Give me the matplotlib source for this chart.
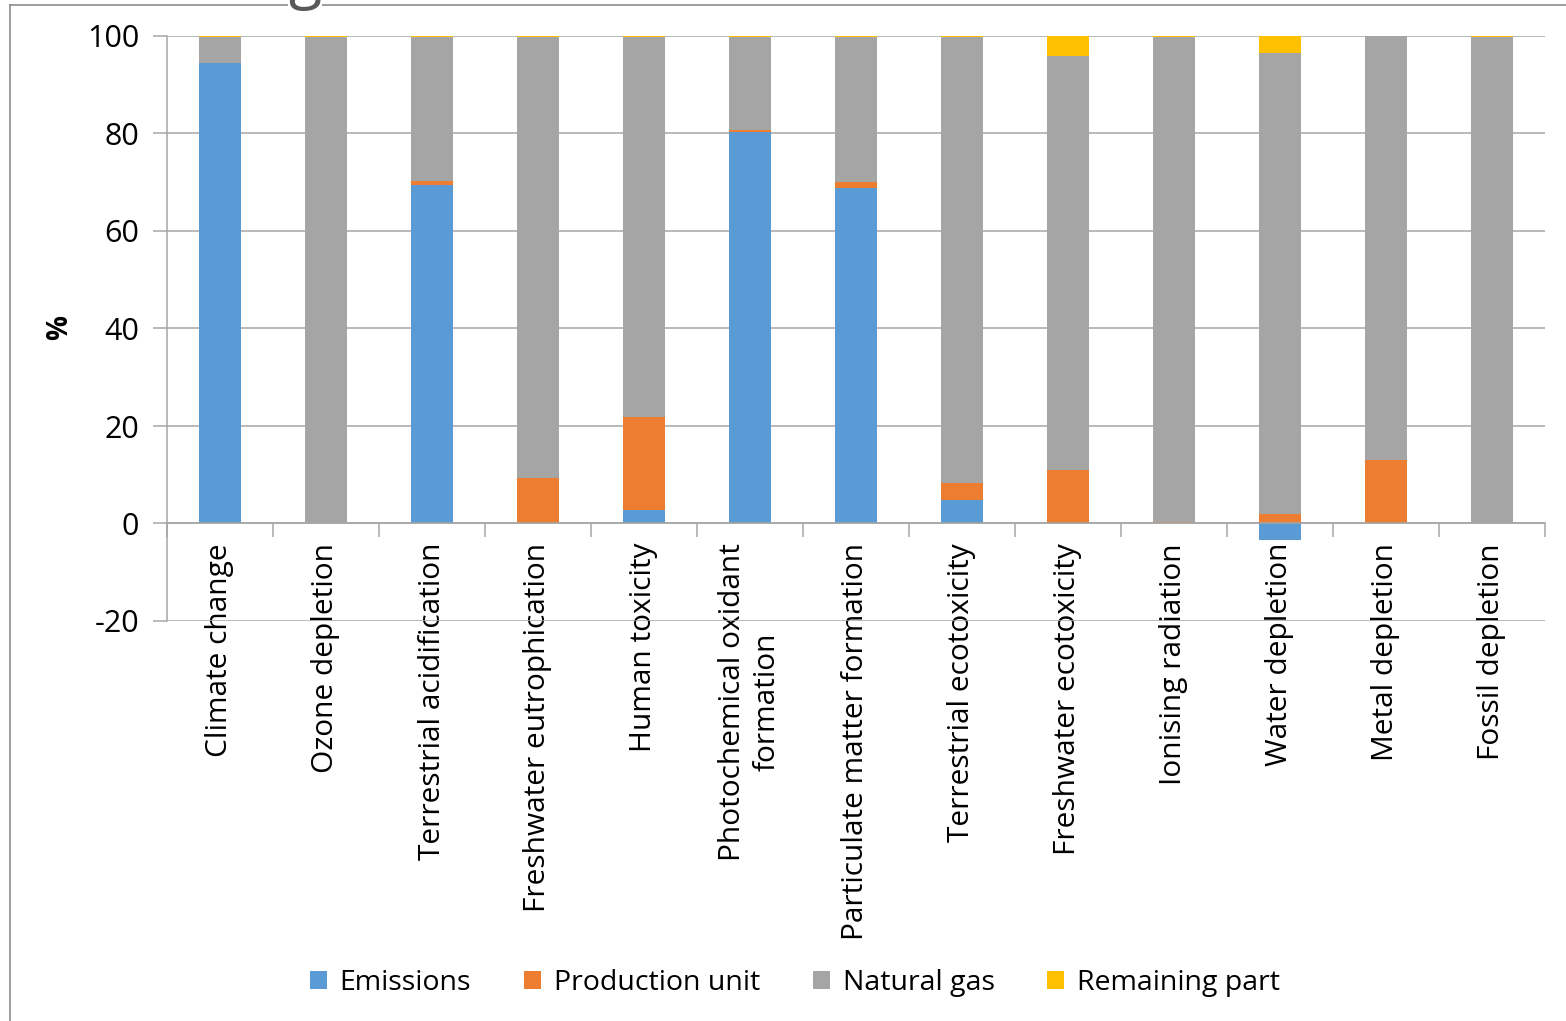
import numpy as np
import matplotlib
matplotlib.use("Agg")
import matplotlib.pyplot as plt

categories = ["Climate change", "Ozone depletion", "Terrestrial acidification",
              "Freshwater eutrophication", "Human toxicity",
              "Photochemical oxidant\nformation", "Particulate matter formation",
              "Terrestrial ecotoxicity", "Freshwater ecotoxicity",
              "Ionising radiation", "Water depletion", "Metal depletion",
              "Fossil depletion"]

emissions = [94.5, 0.0, 69.4, 0.0, 2.8, 80.3, 68.9, 4.9, 0.0, 0.0, -3.3, 0.0, 0.0]
production = [0.0, 0.0, 0.8, 9.4, 19.0, 0.5, 1.1, 3.4, 11.0, 0.3, 2.0, 13.1, 0.0]
natural_gas = [5.2, 99.7, 29.5, 90.3, 77.9, 18.9, 29.7, 91.4, 84.9, 99.4, 94.5, 86.8, 99.7]
remaining = [0.3, 0.3, 0.3, 0.3, 0.3, 0.3, 0.3, 0.3, 4.1, 0.3, 3.5, 0.1, 0.3]

series = [("Emissions", emissions, "#5B9BD5"),
          ("Production unit", production, "#ED7D31"),
          ("Natural gas", natural_gas, "#A5A5A5"),
          ("Remaining part", remaining, "#FFC000")]

yticks = [-20, 0, 20, 40, 60, 80, 100]

plt.rcParams['font.family'] = ['Open Sans', 'DejaVu Sans']
plt.rcParams['axes.unicode_minus'] = False

fig = plt.figure(figsize=(15.66, 10.21), dpi=100)
ax = fig.add_axes([167 / 1566, 1 - 621 / 1021, (1545 - 167) / 1566, (621 - 36) / 1021])

x = np.arange(len(categories))
pos_base = np.zeros(len(categories))
neg_base = np.zeros(len(categories))
for name, vals, col in series:
    v = np.array(vals)
    bottom = np.where(v >= 0, pos_base, neg_base)
    ax.bar(x, v, 0.4, bottom=bottom, color=col, label=name, zorder=3)
    pos_base = pos_base + np.where(v >= 0, v, 0)
    neg_base = neg_base + np.where(v < 0, v, 0)

grid_col = "#A6A6A6"
ax.set_ylim(-20, 100)
ax.set_xlim(-0.5, len(categories) - 0.5)
ax.set_yticks(yticks)
ax.yaxis.grid(True, color=grid_col, linewidth=1.1, zorder=0)
ax.set_axisbelow(True)
ax.tick_params(axis='y', length=10, width=1.1, color=grid_col, labelsize=22, pad=10)

ax.spines['bottom'].set_position(('data', 0))
ax.spines['bottom'].set_color(grid_col)
ax.spines['bottom'].set_linewidth(1.1)
ax.spines['bottom'].set_zorder(4)
ax.spines['left'].set_color(grid_col)
ax.spines['left'].set_linewidth(1.1)
ax.spines['top'].set_visible(False)
ax.spines['right'].set_visible(False)

ax.set_xticks(x)
ax.set_xticklabels(categories, rotation=90, fontsize=21.5, linespacing=1.25)
ax.set_xticks(np.arange(-0.5, len(categories)), minor=True)
ax.tick_params(axis='x', which='major', length=0, pad=14)
ax.tick_params(axis='x', which='minor', length=10, width=1.1, color=grid_col)

fig.text(60 / 1566, 1 - 328 / 1021, "%", rotation=90, fontsize=20,
         fontweight='bold', ha='center', va='center')

ax.legend(loc='center', bbox_to_anchor=(795 / 1566, 1 - 983 / 1021),
          bbox_transform=fig.transFigure, ncol=4, frameon=False, fontsize=20.5,
          handlelength=0.6, handleheight=0.6, handletextpad=0.45,
          columnspacing=1.85)

# outer frame and the clipped title glyph
fig.add_artist(plt.Line2D([10 / 1566, 10 / 1566], [0, 1 - 5 / 1021],
                          transform=fig.transFigure, color="#8C8C8C", linewidth=1.2))
fig.add_artist(plt.Line2D([10 / 1566, 1], [1 - 5 / 1021, 1 - 5 / 1021],
                          transform=fig.transFigure, color="#8C8C8C", linewidth=1.2))
fig.text(305 / 1566, 1 + 3 / 1021, "g", fontsize=44, color="#595959",
         ha='center', va='baseline',
         bbox=dict(facecolor='white', edgecolor='none', pad=0))

fig.savefig("out.png", dpi=100)
